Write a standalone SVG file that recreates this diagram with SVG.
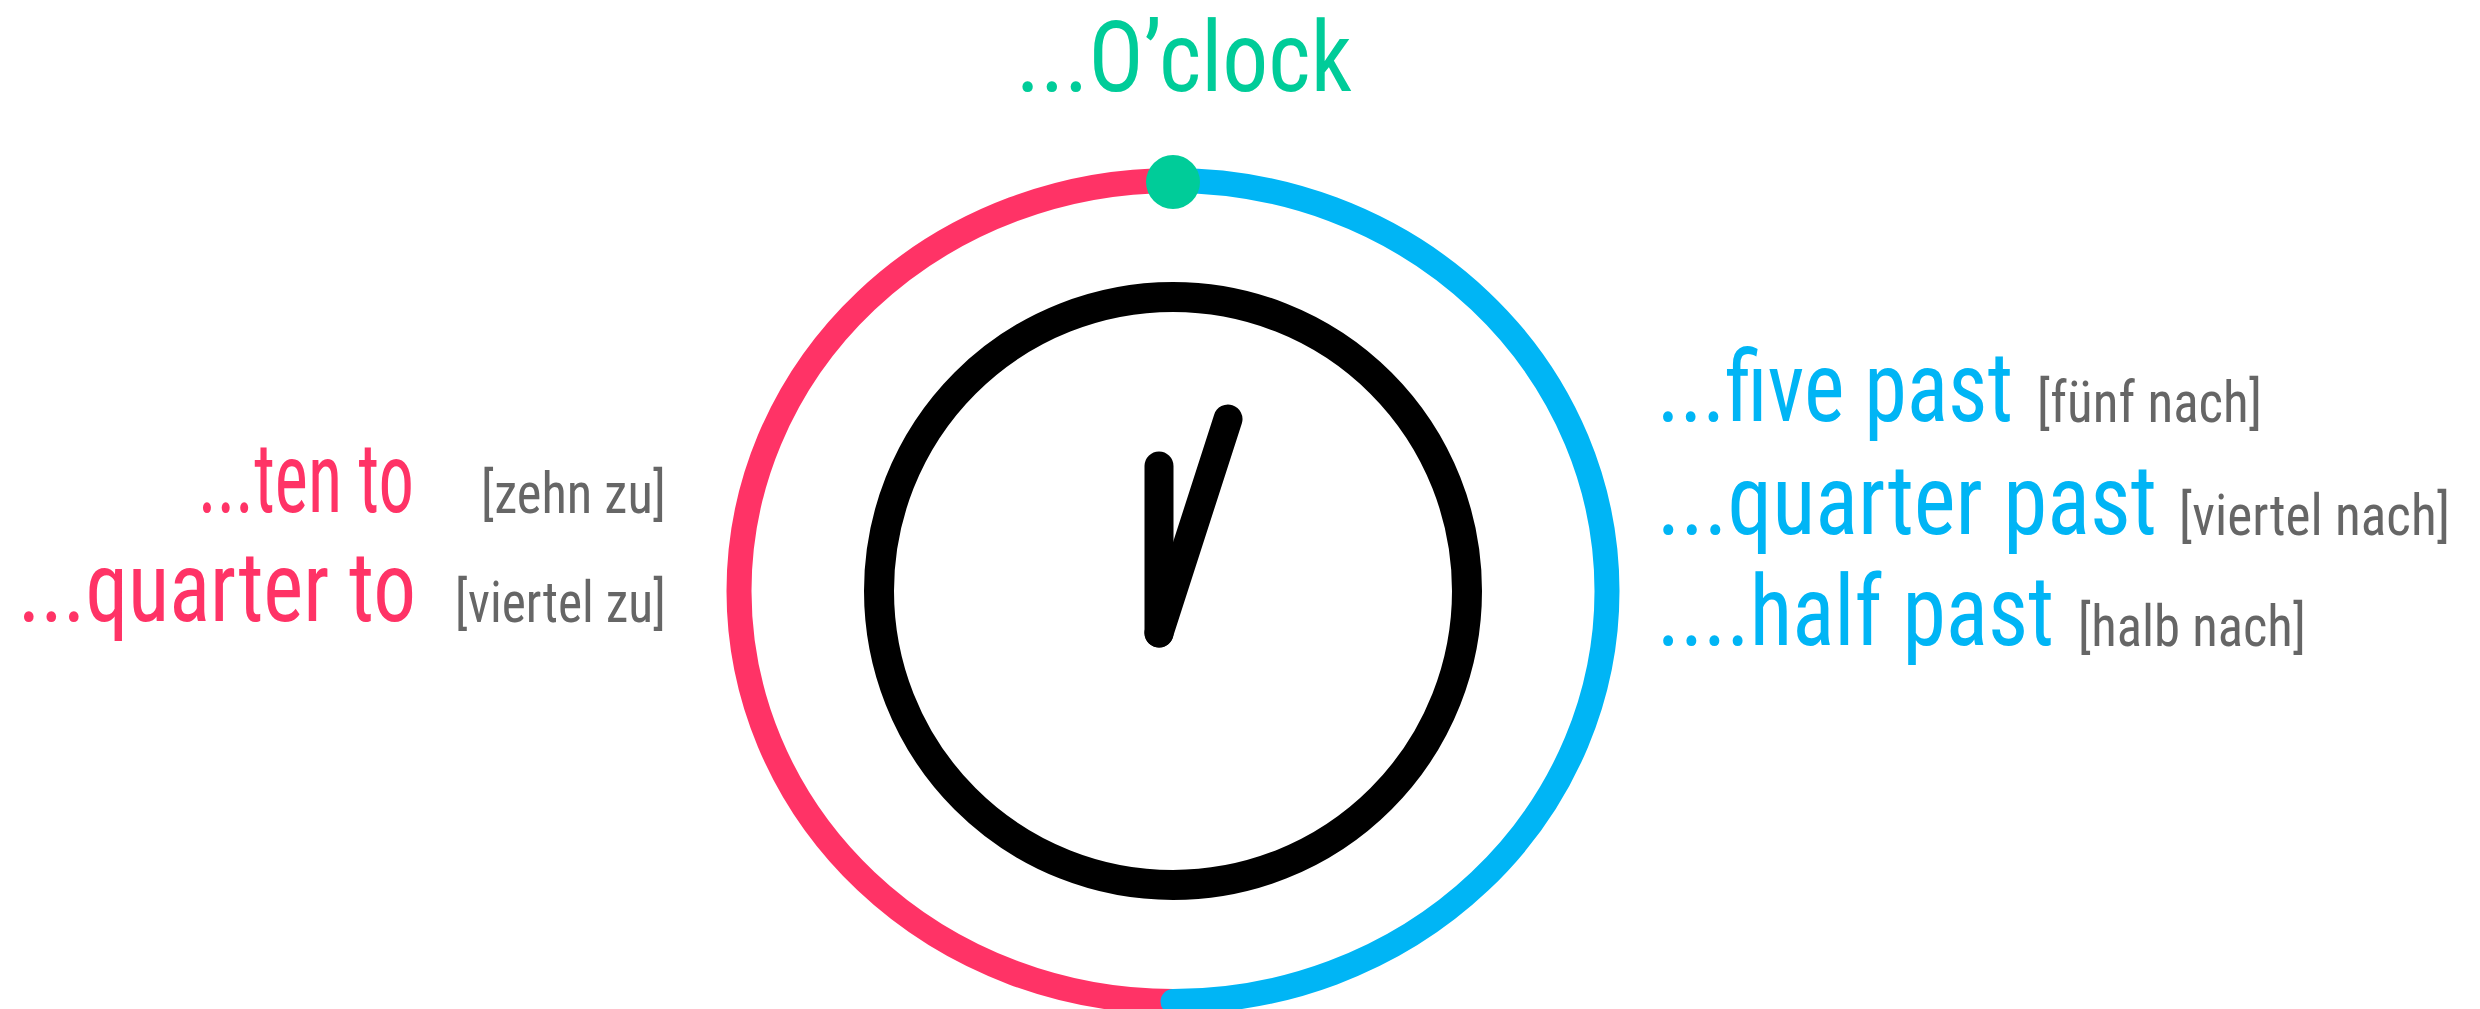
<svg xmlns="http://www.w3.org/2000/svg" width="2480" height="1009" viewBox="0 0 2480 1009">
<style>
.main{font-family:"Roboto Condensed",Roboto,"Liberation Sans",sans-serif;font-size:98px}
.de{font-family:"Roboto Condensed",Roboto,"Liberation Sans",sans-serif;font-size:58px;fill:#666666}
.red{fill:#FF3366}
.blue{fill:#00B5F5}
.green{fill:#00CC99}
</style>
<rect width="2480" height="1009" fill="#ffffff"/>
<g id="connectors">
<path d="M1173 180.5 A434 410.5 0 0 0 1173 1001.5" fill="none" stroke="#FF3366" stroke-width="25"/>
<path d="M1173 180.5 A434 410.5 0 0 1 1173 1001.5" fill="none" stroke="#00B5F5" stroke-width="25" stroke-linecap="round"/>
</g>
<g id="clock">
<circle cx="1173" cy="591" r="294" fill="none" stroke="#000000" stroke-width="30"/>
<line x1="1159" y1="466" x2="1159" y2="633" stroke="#000000" stroke-width="29" stroke-linecap="round"/>
<line x1="1228" y1="419" x2="1159" y2="633" stroke="#000000" stroke-width="29" stroke-linecap="round"/>
</g>
<g id="oclock-dot"><circle cx="1173" cy="182" r="27" fill="#00CC99"/></g>
<g id="oclock-label"><text class="main green" x="1016" y="91" font-size="99" textLength="336" lengthAdjust="spacingAndGlyphs">...O’clock</text></g>
<g id="ten-to">
<text y="512"><tspan class="main red" x="198" textLength="216" lengthAdjust="spacingAndGlyphs">...ten to</tspan><tspan class="de" x="481" dy="1" textLength="185" lengthAdjust="spacingAndGlyphs">[zehn zu]</tspan></text>
</g>
<g id="quarter-to">
<text y="621"><tspan class="main red" x="18" textLength="398" lengthAdjust="spacingAndGlyphs">...quarter to</tspan><tspan class="de" x="455" dy="1" textLength="211" lengthAdjust="spacingAndGlyphs">[viertel zu]</tspan></text>
</g>
<g id="five-past">
<text y="421"><tspan class="main blue" x="1657" textLength="356" lengthAdjust="spacingAndGlyphs">...five past</tspan><tspan class="de" x="2037" dy="1" textLength="225" lengthAdjust="spacingAndGlyphs">[fünf nach]</tspan></text>
</g>
<g id="quarter-past">
<text y="534"><tspan class="main blue" x="1657" textLength="500" lengthAdjust="spacingAndGlyphs">...quarter past</tspan><tspan class="de" x="2179" dy="1" textLength="271" lengthAdjust="spacingAndGlyphs">[viertel nach]</tspan></text>
</g>
<g id="half-past">
<text y="645"><tspan class="main blue" x="1657" textLength="397" lengthAdjust="spacingAndGlyphs">....half past</tspan><tspan class="de" x="2078" dy="1" textLength="228" lengthAdjust="spacingAndGlyphs">[halb nach]</tspan></text>
</g>
</svg>
